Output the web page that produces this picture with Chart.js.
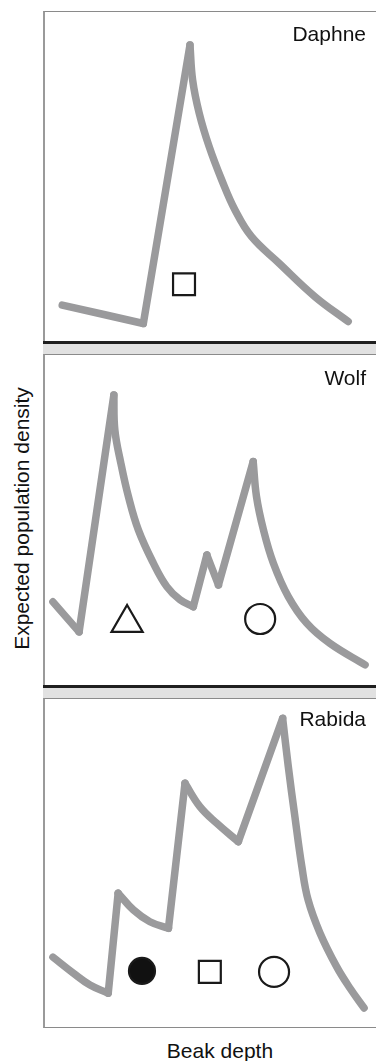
<!DOCTYPE html>
<html lang="en">
<head>
<meta charset="UTF-8" />
<title>Expected population density by beak depth</title>
<script src="https://cdn.jsdelivr.net/npm/chart.js"></script>
<style>
  body {
    margin: 0;
    background: #fff;
    font-family: 'Liberation Sans', Arial, Helvetica, sans-serif;
    color: #111;
  }
  .page { position: relative; width: 376px; height: 1061px; overflow: hidden; }
  .frame {
    position: absolute;
    left: 43px;
    width: 345px;
    border-top: 1px solid #8a8a8a;
    border-left: 2px solid #9a9a9a;
    background: #fff;
    box-sizing: border-box;
  }
  .bar { position: absolute; left: 43px; width: 345px; height: 3px; background: #1f1f1f; }
  .band { position: absolute; left: 43px; width: 345px; background: #e1e1e1; }
  canvas { position: absolute; left: 45px; }
  .label {
    position: absolute;
    right: 10px;
    font-size: 21px;
    line-height: 21px;
    white-space: nowrap;
  }
  .ytitle {
    position: absolute;
    left: -129px;
    top: 508px;
    width: 300px;
    height: 21px;
    font-size: 21px;
    line-height: 21px;
    text-align: center;
    white-space: nowrap;
    transform: rotate(-90deg);
  }
  .xtitle {
    position: absolute;
    left: 120px;
    top: 1040px;
    width: 200px;
    font-size: 21px;
    line-height: 21px;
    text-align: center;
  }
</style>
</head>
<body>
<div class="page">
  <!-- panel frames -->
  <div class="frame" style="top:11px; height:331px;"></div>
  <div class="bar" style="top:341px;"></div>
  <div class="band" style="top:344px; height:10px;"></div>

  <div class="frame" style="top:354px; height:331px;"></div>
  <div class="bar" style="top:685px;"></div>
  <div class="band" style="top:688px; height:10px;"></div>

  <div class="frame" style="top:698px; height:330px; border-bottom:1px solid #8a8a8a;"></div>

  <canvas id="daphne" width="331" height="330" style="top:12px;"></canvas>
  <canvas id="wolf" width="331" height="330" style="top:355px;"></canvas>
  <canvas id="rabida" width="331" height="328" style="top:699px;"></canvas>

  <div class="label" style="top:23px;">Daphne</div>
  <div class="label" style="top:367px;">Wolf</div>
  <div class="label" style="top:708px;">Rabida</div>

  <div class="ytitle">Expected population density</div>
  <div class="xtitle">Beak depth</div>
</div>

<script>
  // Beak depth (x) and expected density (y), both on a 0-100 scale
  const daphneX = [5.2, 29.7, 43.8, 44.6, 46.6, 49.6, 53.4, 57.4, 62.4, 70.8, 81.6, 91.6];
  const daphneY = [11.2, 5.6, 90.0, 79.4, 69.3, 59.2, 49.1, 40.0, 31.9, 23.8, 13.7, 6.2];

  const wolfX = [2.4, 10.3, 20.8, 21.1, 22.9, 25.2, 28.2, 32.7, 36.8, 40.8, 44.8, 48.9, 52.4, 62.9, 63.9, 66.0, 69.0, 73.5, 79.1, 86.1, 96.7];
  const wolfY = [25.2, 16.1, 87.9, 77.3, 67.3, 57.1, 47.0, 37.0, 29.8, 25.8, 23.7, 39.4, 30.3, 67.7, 57.1, 47.0, 36.9, 26.8, 18.7, 12.6, 6.1];

  const rabidaX = [2.4, 8.6, 13.6, 19.1, 22.1, 26.7, 31.7, 37.3, 42.3, 46.8, 51.9, 58.4, 71.8, 73.5, 75.5, 77.6, 79.5, 83.1, 88.1, 92.1, 96.4];
  const rabidaY = [21.3, 16.4, 12.8, 10.3, 40.8, 35.7, 32.1, 30.1, 74.3, 67.2, 62.1, 56.5, 94.1, 79.4, 64.1, 48.9, 38.7, 28.6, 18.4, 11.9, 5.8];

  // Species symbols under each curve
  const daphneMarkX = [42.0];
  const daphneMarkY = [17.5];
  const daphneMarkKind = ['square'];

  const wolfMarkX = [24.8, 65.0];
  const wolfMarkY = [18.8, 20.0];
  const wolfMarkKind = ['triangle', 'circle'];

  const rabidaMarkX = [29.3, 49.8, 69.2];
  const rabidaMarkY = [17.1, 16.8, 16.8];
  const rabidaMarkKind = ['dot', 'square', 'circle'];

  const symbolStyle = {
    square:   { pointStyle: 'rect',     radius: 15.5, fill: '#fff' },
    triangle: { pointStyle: 'triangle', radius: 18,   fill: '#fff' },
    circle:   { pointStyle: 'circle',   radius: 15,   fill: '#fff' },
    dot:      { pointStyle: 'circle',   radius: 13,   fill: '#111' }
  };

  // split the curve where it turns, so peaks stay sharp and each run can be smoothed
  function splitRuns(xs, ys) {
    const runs = [];
    let run = [{ x: xs[0], y: ys[0] }];
    let dir = 0;
    for (let i = 1; i < xs.length; i++) {
      const d = Math.sign(ys[i] - ys[i - 1]);
      if (dir !== 0 && d !== dir) {
        runs.push(run);
        run = [{ x: xs[i - 1], y: ys[i - 1] }];
      }
      dir = d;
      run.push({ x: xs[i], y: ys[i] });
    }
    runs.push(run);
    return runs;
  }

  function makePanel(id, xs, ys, mx, my, kinds) {
    const datasets = splitRuns(xs, ys).map(run => ({
      data: run,
      showLine: true,
      tension: 0.4,
      borderColor: '#9a9a9c',
      borderWidth: 7.5,
      borderCapStyle: 'round',
      borderJoinStyle: 'round',
      pointRadius: 0,
      clip: false
    }));

    kinds.forEach((k, i) => {
      const s = symbolStyle[k];
      datasets.push({
        data: [{ x: mx[i], y: my[i] }],
        showLine: false,
        pointStyle: s.pointStyle,
        pointRadius: s.radius,
        backgroundColor: s.fill,
        borderColor: '#1a1a1a',
        borderWidth: 2.2,
        clip: false
      });
    });

    new Chart(document.getElementById(id), {
      type: 'scatter',
      data: { datasets: datasets },
      options: {
        responsive: false,
        animation: false,
        events: [],
        layout: { padding: 0, autoPadding: false },
        plugins: { legend: { display: false }, tooltip: { enabled: false } },
        scales: {
          x: { type: 'linear', min: 0, max: 100, display: false },
          y: { type: 'linear', min: 0, max: 100, display: false }
        }
      }
    });
  }

  makePanel('daphne', daphneX, daphneY, daphneMarkX, daphneMarkY, daphneMarkKind);
  makePanel('wolf', wolfX, wolfY, wolfMarkX, wolfMarkY, wolfMarkKind);
  makePanel('rabida', rabidaX, rabidaY, rabidaMarkX, rabidaMarkY, rabidaMarkKind);
</script>
</body>
</html>
